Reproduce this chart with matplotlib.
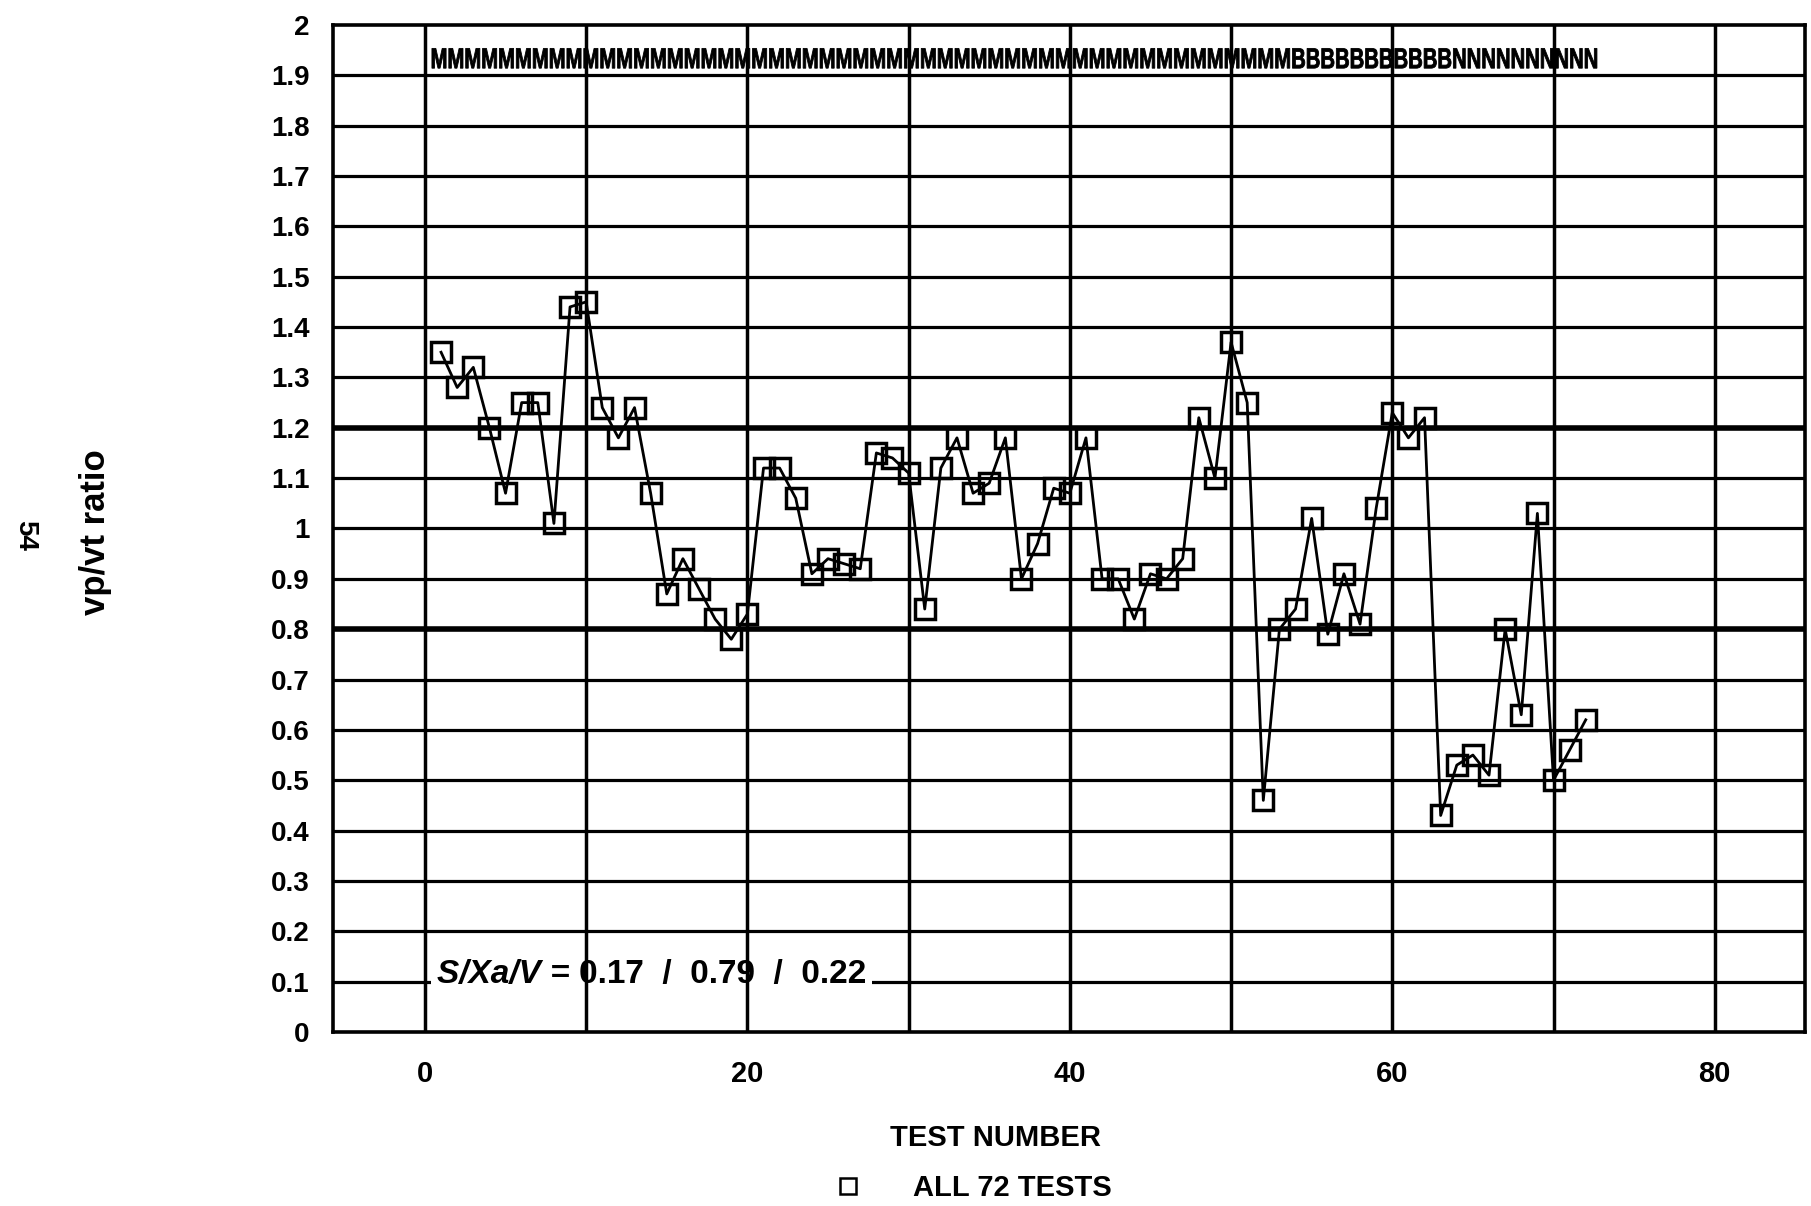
import numpy as np
import matplotlib.pyplot as plt
from matplotlib.lines import Line2D
from matplotlib.textpath import TextPath
from matplotlib.patches import PathPatch
from matplotlib.font_manager import FontProperties
from matplotlib.transforms import Affine2D, ScaledTranslation

# vp/vt ratio for every test, in test order
test_number = list(range(1, 73))
vp_vt_ratio = [
    1.35, 1.28, 1.32, 1.20, 1.07, 1.25, 1.25, 1.01, 1.44, 1.45,
    1.24, 1.18, 1.24, 1.07, 0.87, 0.94, 0.88, 0.82, 0.78, 0.83,
    1.12, 1.12, 1.06, 0.91, 0.94, 0.93, 0.92, 1.15, 1.14, 1.11,
    0.84, 1.12, 1.18, 1.07, 1.09, 1.18, 0.90, 0.97, 1.08, 1.07,
    1.18, 0.90, 0.90, 0.82, 0.91, 0.90, 0.94, 1.22, 1.10, 1.37,
    1.25, 0.46, 0.80, 0.84, 1.02, 0.79, 0.91, 0.81, 1.04, 1.23,
    1.18, 1.22, 0.43, 0.53, 0.55, 0.51, 0.80, 0.63, 1.03, 0.50,
    0.56, 0.62,
]

# group code of each test, printed as a strip along the top
group_codes = ['M'] * 51 + ['B'] * 11 + ['N'] * 10

limit_lines = [0.8, 1.2]
stats_name = 'S/Xa/V'
stats_values = [0.17, 0.79, 0.22]
series_label = 'ALL 72 TESTS'

plt.rcParams['font.family'] = ['Liberation Sans', 'DejaVu Sans']
plt.rcParams['font.weight'] = 'bold'

fig = plt.figure(figsize=(18.11, 12.06), dpi=100)
ax = fig.add_axes([0.1839, 0.1443, 0.8128, 0.8350])

ax.set_xlim(-5.7, 85.6)
ax.set_ylim(0, 2)

# grid: horizontal lines below the stats box, vertical lines over it
for y in np.arange(0.1, 1.95, 0.1):
    ax.axhline(y, color='black', lw=2.3, zorder=1)
for y in limit_lines:
    ax.axhline(y, color='black', lw=4.0, zorder=1)
for x in range(0, 81, 10):
    ax.axvline(x, color='black', lw=2.5, zorder=3)

ax.plot(test_number, vp_vt_ratio, color='black', lw=2.0, marker='s',
        markersize=15, markerfacecolor='none', markeredgewidth=2.5, zorder=4)

# group-code strip: a text path squeezed sideways to fit the row
strip = TextPath((0, 0), ''.join(group_codes), size=1,
                 prop=FontProperties(family='Liberation Sans', weight='bold'))
strip_w = strip.get_extents().width
cap_px = 21.0
width_px = 1165.0
sy = cap_px / 0.73
sx = width_px / strip_w
strip_trans = (Affine2D().scale(sx, sy).translate(0, -cap_px / 2)
               + ScaledTranslation(0.35, 1.935, ax.transData))
ax.add_patch(PathPatch(strip, transform=strip_trans, facecolor='black',
                       edgecolor='black', lw=0.6, zorder=5))

# summary statistics
name_txt = ax.text(0.75, 0.115, stats_name + ' = ', ha='left', va='center',
                   fontsize=24, fontstyle='italic', fontweight='bold', zorder=2,
                   bbox=dict(facecolor='white', edgecolor='none', pad=4))
ax.annotate('  /  '.join(f'{v:.2f}' for v in stats_values), xy=(1, 0.5),
            xycoords=name_txt, ha='left', va='center', fontsize=24,
            fontweight='bold', zorder=2,
            bbox=dict(facecolor='white', edgecolor='none', pad=4))

ax.set_xticks(range(0, 81, 20))
yt = np.round(np.arange(0, 2.01, 0.1), 1)
ax.set_yticks(yt)
ax.set_yticklabels([f'{v:g}' for v in yt])
ax.tick_params(axis='both', length=0)
ax.tick_params(axis='x', pad=20, labelsize=21)
ax.tick_params(axis='y', pad=17, labelsize=20)
for lab in ax.get_xticklabels() + ax.get_yticklabels():
    lab.set_fontweight('bold')

for sp in ax.spines.values():
    sp.set_linewidth(2.6)

fig.text(996 / 1811, 1 - 1138 / 1206, 'TEST NUMBER', ha='center', va='center',
         fontsize=21, fontweight='bold')
fig.text(95 / 1811, 1 - 532 / 1206, 'vp/vt ratio', ha='center', va='center',
         rotation=90, fontsize=25, fontweight='bold')
fig.text(25 / 1811, 1 - 535 / 1206, '54', ha='center', va='center',
         rotation=-90, fontsize=20, fontweight='bold')

handle = Line2D([], [], color='black', ls='none', marker='s', markersize=11,
                markerfacecolor='none', markeredgewidth=1.8)
fig.legend([handle], [series_label], loc='center', bbox_to_anchor=(0.537, 0.015),
           frameon=False, handlelength=1.0, handletextpad=1.7,
           prop={'weight': 'bold', 'size': 21})

fig.savefig('out.png', dpi=100)
